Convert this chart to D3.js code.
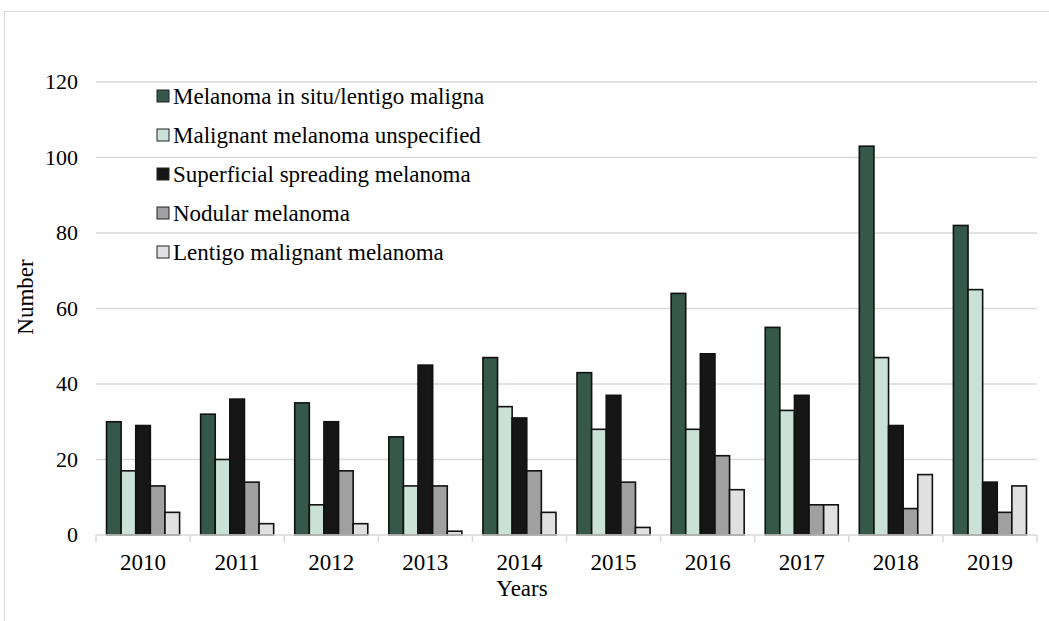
<!DOCTYPE html>
<html>
<head>
<meta charset="utf-8">
<script src="https://cdn.jsdelivr.net/npm/d3@7"></script>
<style>
  body { margin: 0; background: #fff; }
  svg { display: block; font-family: "Liberation Serif", "Times New Roman", serif; }
</style>
</head>
<body>
<div id="app"></div>
<script>
const years = ['2010', '2011', '2012', '2013', '2014', '2015', '2016', '2017', '2018', '2019']
const series = [
  'Melanoma in situ/lentigo maligna',
  'Malignant melanoma unspecified',
  'Superficial spreading melanoma',
  'Nodular melanoma',
  'Lentigo malignant melanoma'
]
const insitu = [30, 32, 35, 26, 47, 43, 64, 55, 103, 82]
const unspecified = [17, 20, 8, 13, 34, 28, 28, 33, 47, 65]
const superficial = [29, 36, 30, 45, 31, 37, 48, 37, 29, 14]
const nodular = [13, 14, 17, 13, 17, 14, 21, 8, 7, 6]
const lentigo = [6, 3, 3, 1, 6, 2, 12, 8, 16, 13]
const yTicks = [0, 20, 40, 60, 80, 100, 120]
const colors = ['#35584a', '#c9e1d6', '#161616', '#a0a0a0', '#e0e0e0']

const values = [insitu, unspecified, superficial, nodular, lentigo]

const W = 1049, H = 621
const plotLeft = 96, plotRight = 1037, plotTop = 82, plotBottom = 535

const svg = d3.select('#app').append('svg')
  .attr('width', W).attr('height', H)

// outer frame
svg.append('rect')
  .attr('x', 4.5).attr('y', 11.5)
  .attr('width', W + 10).attr('height', H + 10)
  .attr('fill', 'none').attr('stroke', '#d9d9d9')

const x = d3.scaleBand().domain(years).range([plotLeft, plotRight])
const x1 = d3.scaleBand().domain(d3.range(series.length))
  .range([0, x.bandwidth()]).paddingOuter(0.72)
const y = d3.scaleLinear().domain([0, 120]).range([plotBottom, plotTop])

// gridlines
svg.append('g').selectAll('line').data(yTicks.slice(1)).join('line')
  .attr('x1', plotLeft).attr('x2', plotRight)
  .attr('y1', (d) => y(d)).attr('y2', (d) => y(d))
  .attr('stroke', '#d9d9d9').attr('stroke-width', 1.5)

// y tick labels
svg.append('g').selectAll('text').data(yTicks).join('text')
  .attr('x', 78).attr('y', (d) => y(d))
  .attr('dy', '0.33em').attr('text-anchor', 'end')
  .attr('font-size', 22).text((d) => d)

// bars
const g = svg.append('g').selectAll('g').data(years).join('g')
  .attr('transform', (d) => `translate(${x(d)},0)`)

g.selectAll('rect').data((d, i) => values.map((v, s) => ({ s, v: v[i] }))).join('rect')
  .attr('x', (d) => x1(d.s))
  .attr('width', x1.bandwidth())
  .attr('y', (d) => y(d.v))
  .attr('height', (d) => y(0) - y(d.v))
  .attr('fill', (d) => colors[d.s])
  .attr('stroke', '#111').attr('stroke-width', 1.6)

// x axis
const xAxis = svg.append('g')
xAxis.append('line')
  .attr('x1', plotLeft).attr('x2', plotRight).attr('y1', plotBottom).attr('y2', plotBottom)
  .attr('stroke', '#d9d9d9').attr('stroke-width', 1.5)
xAxis.selectAll('.tick').data(years.concat(['end'])).join('line')
  .attr('x1', (d) => d === 'end' ? plotRight : x(d))
  .attr('x2', (d) => d === 'end' ? plotRight : x(d))
  .attr('y1', plotBottom).attr('y2', plotBottom + 7)
  .attr('stroke', '#d9d9d9').attr('stroke-width', 1.5)
xAxis.selectAll('text').data(years).join('text')
  .attr('x', (d) => x(d) + x.bandwidth() / 2)
  .attr('y', 570).attr('text-anchor', 'middle')
  .attr('font-size', 23).text((d) => d)

// axis titles
svg.append('text')
  .attr('x', 522).attr('y', 596).attr('text-anchor', 'middle')
  .attr('font-size', 23).text('Years')
svg.append('text')
  .attr('transform', 'translate(33,297) rotate(-90)')
  .attr('text-anchor', 'middle')
  .attr('font-size', 23).text('Number')

// legend
const legend = svg.append('g').selectAll('g').data(series).join('g')
  .attr('transform', (d, i) => `translate(157,${96 + i * 39})`)
legend.append('rect')
  .attr('x', 0).attr('y', -6).attr('width', 12).attr('height', 12)
  .attr('fill', (d, i) => colors[i])
  .attr('stroke', '#222').attr('stroke-width', 1)
legend.append('text')
  .attr('x', 16).attr('dy', '0.35em')
  .attr('font-size', 23).text((d) => d)
</script>
</body>
</html>
